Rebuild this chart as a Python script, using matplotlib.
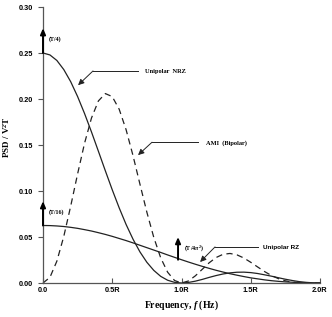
import matplotlib
matplotlib.use("Agg")
import matplotlib.pyplot as plt

plt.rcParams['mathtext.fontset'] = 'custom'
plt.rcParams['mathtext.it'] = 'Liberation Serif:italic:bold'
plt.rcParams['mathtext.rm'] = 'Liberation Serif:bold'

# ---- data ----
freq = [0.00, 0.05, 0.10, 0.15, 0.20, 0.25, 0.30, 0.35, 0.40, 0.45,
        0.50, 0.55, 0.60, 0.65, 0.70, 0.75, 0.80, 0.85, 0.90, 0.95,
        1.00, 1.05, 1.10, 1.15, 1.20, 1.25, 1.30, 1.35, 1.40, 1.45,
        1.50, 1.55, 1.60, 1.65, 1.70, 1.75, 1.80, 1.85, 1.90, 1.95, 2.00]

unipolar_nrz = [0.2500, 0.2479, 0.2419, 0.2320, 0.2188, 0.2026, 0.1842, 0.1642, 0.1432, 0.1220,
                0.1013, 0.0817, 0.0636, 0.0476, 0.0338, 0.0225, 0.0137, 0.0072, 0.0030, 0.0007,
                0.0000, 0.0006, 0.0020, 0.0039, 0.0061, 0.0081, 0.0098, 0.0110, 0.0117, 0.0118,
                0.0113, 0.0103, 0.0089, 0.0074, 0.0057, 0.0041, 0.0027, 0.0015, 0.0007, 0.0002, 0.0000]

ami_bipolar = [0.0000, 0.0061, 0.0237, 0.0506, 0.0836, 0.1187, 0.1519, 0.1793, 0.1979, 0.2059,
               0.2026, 0.1889, 0.1666, 0.1384, 0.1074, 0.0769, 0.0495, 0.0273, 0.0117, 0.0027,
               0.0000, 0.0022, 0.0078, 0.0149, 0.0220, 0.0277, 0.0312, 0.0321, 0.0306, 0.0272,
               0.0225, 0.0174, 0.0124, 0.0081, 0.0047, 0.0024, 0.0010, 0.0003, 0.0001, 0.0000, 0.0000]

unipolar_rz = [0.0625, 0.0624, 0.0620, 0.0614, 0.0605, 0.0594, 0.0580, 0.0565, 0.0547, 0.0528,
               0.0507, 0.0484, 0.0461, 0.0436, 0.0410, 0.0384, 0.0358, 0.0332, 0.0305, 0.0279,
               0.0253, 0.0228, 0.0204, 0.0181, 0.0159, 0.0138, 0.0119, 0.0101, 0.0085, 0.0070,
               0.0056, 0.0045, 0.0034, 0.0025, 0.0018, 0.0012, 0.0008, 0.0004, 0.0002, 0.0000, 0.0000]

# impulses: (frequency, base, top, label)
impulse_f = [0.0, 0.0, 0.975]
impulse_base = [0.25, 0.0625, 0.0253]
impulse_top = [0.277, 0.089, 0.050]
impulse_labels = ['(T/4)', '(T/16)', '(T/4$\\pi^2$)']

xticks = [0.0, 0.5, 1.0, 1.5, 2.0]
xticklabels = ['0.0', '0.5R', '1.0R', '1.5R', '2.0R']
yticks = [0.00, 0.05, 0.10, 0.15, 0.20, 0.25, 0.30]
yticklabels = ['0.00', '0.05', '0.10', '0.15', '0.20', '0.25', '0.30']

# ---- figure ----
fig = plt.figure(figsize=(3.32, 3.17), dpi=100)
ax = fig.add_axes([43/332, 1-283/317, (320-43)/332, (283-7)/317])
ax.set_xlim(0, 2)
ax.set_ylim(0, 0.30)

lc = '#222222'
ax.plot(freq, unipolar_nrz, color=lc, lw=0.9, clip_on=False)
ax.plot(freq, unipolar_rz, color=lc, lw=0.9, clip_on=False)
ax.plot(freq, ami_bipolar, color=lc, lw=0.9, ls=(0, (5, 3.5)), clip_on=False)

for fx, b, t, lab in zip(impulse_f, impulse_base, impulse_top, impulse_labels):
    ax.annotate('', xy=(fx, t), xytext=(fx, b),
                arrowprops=dict(arrowstyle='-|>,head_length=0.35,head_width=0.15',
                                color='black', lw=1.4, shrinkA=0, shrinkB=0),
                annotation_clip=False)
    ax.text(fx + 0.045, t - 0.012, lab, fontsize=4.3, family='Liberation Serif',
            fontweight='bold', va='center', ha='left')

def leader(text, head, corner, end, textpos, family='Liberation Serif'):
    ax.plot([corner[0], end[0]], [corner[1], end[1]], color=lc, lw=0.7)
    ax.annotate('', xy=head, xytext=corner,
                arrowprops=dict(arrowstyle='-|>,head_length=0.35,head_width=0.17',
                                color=lc, lw=0.7, shrinkA=0, shrinkB=0))
    ax.text(textpos[0], textpos[1], text, fontsize=4.6, family=family,
            fontweight='bold', va='center', ha='left')

leader('Unipolar  NRZ', (0.253, 0.215), (0.361, 0.2305), (0.686, 0.2305), (0.736, 0.2295))
leader('AMI  (Bipolar)', (0.686, 0.139), (0.787, 0.153), (1.119, 0.153), (1.177, 0.152))
leader('Unipolar RZ', (1.134, 0.0228), (1.242, 0.0392), (1.552, 0.0392), (1.585, 0.0385),
       family='Liberation Sans')

for s in ['top', 'right']:
    ax.spines[s].set_visible(False)
for s in ['left', 'bottom']:
    ax.spines[s].set_color('#555555')
    ax.spines[s].set_linewidth(0.9)

ax.set_xticks(xticks)
ax.set_xticklabels(xticklabels, fontsize=5.3, family='Liberation Sans', fontweight='bold')
ax.set_yticks(yticks)
ax.set_yticklabels(yticklabels, fontsize=5.3, family='Liberation Sans', fontweight='bold')
ax.tick_params(axis='x', direction='in', length=3.5, width=0.8, color='#555555', pad=3)
ax.tick_params(axis='y', direction='out', length=3.5, width=0.8, color='#555555', pad=3.5)

ax.set_xlabel('Frequency, $\\mathit{f}$ (Hz)', fontsize=7, family='Liberation Serif',
              fontweight='bold', labelpad=3)
ax.set_ylabel('PSD / V$^{2}$T', fontsize=6.5, family='Liberation Serif', fontweight='bold')
ax.yaxis.set_label_coords(-0.112, 0.53)

fig.savefig('out.png', dpi=100)
